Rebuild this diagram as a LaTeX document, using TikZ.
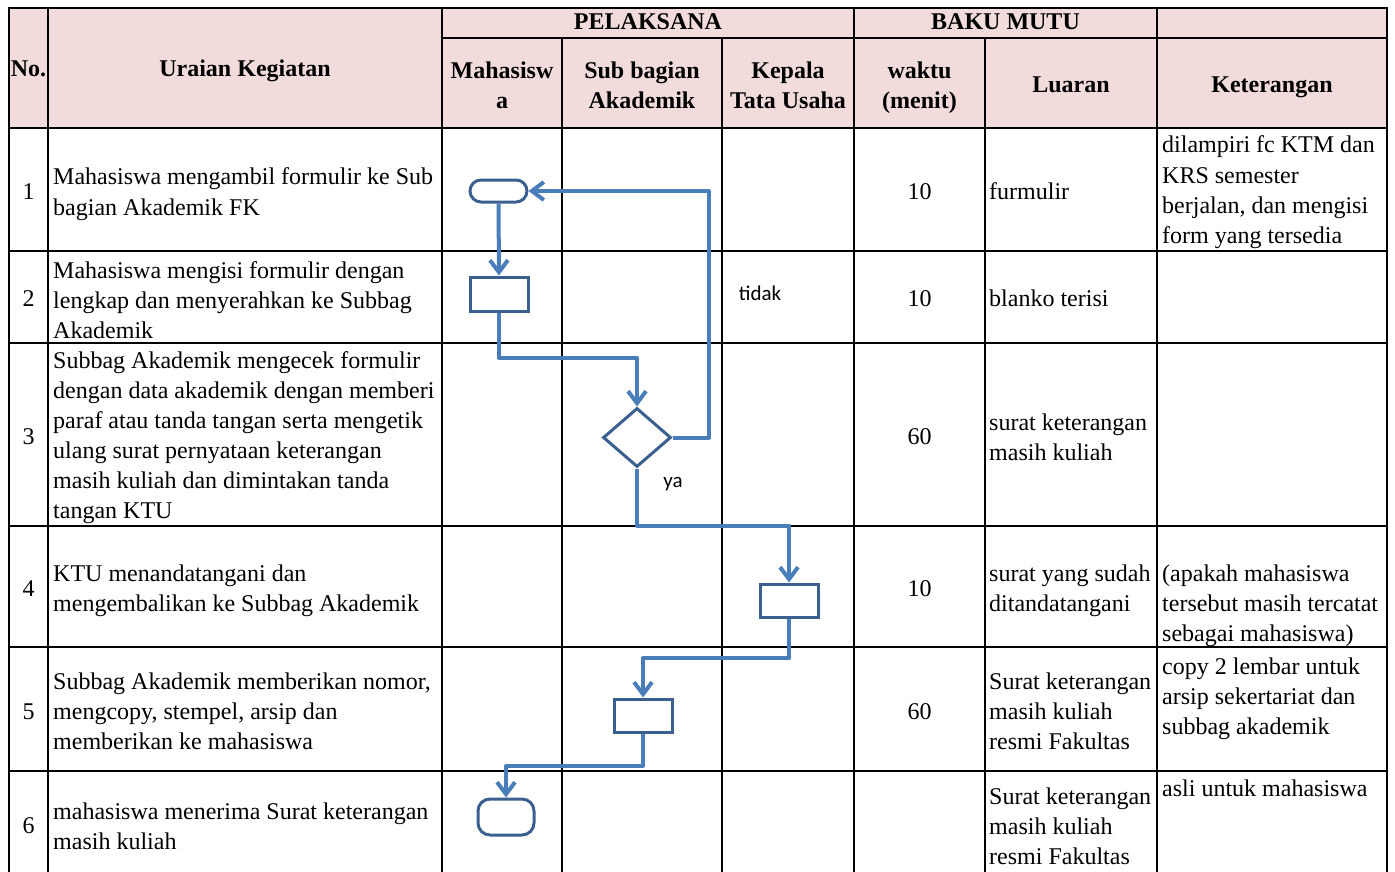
\documentclass[tikz,border=0pt]{standalone}
\usepackage{fontspec}
\setmainfont{Liberation Serif}
\newfontfamily\calib{Carlito}
\usetikzlibrary{shapes.geometric,arrows.meta}
\definecolor{hdrfill}{HTML}{F2DCDB}
\definecolor{shpline}{HTML}{3B5F8E}
\definecolor{connline}{HTML}{4A7EBB}
\newcommand\cellrows[5]{%
  \foreach \t [count=\i from 0] in {#5} {\node[tx,anchor=#4] (#1-\i) at (#2,#3+30*\i) {\t};}}
\begin{document}
\begin{tikzpicture}[x=1pt,y=-1pt,
  tx/.style={font=\fontsize{24}{30}\selectfont, inner sep=0pt},
  hd/.style={font=\fontsize{24}{30}\selectfont\bfseries, inner sep=0pt, anchor=base},
  grid/.style={line width=2.5pt, black, line cap=rect},
  shp/.style={draw=shpline, line width=3pt, inner sep=0pt},
  proc/.style={shp, rectangle, minimum width=58pt, minimum height=33pt},
  conn/.style={draw=connline, line width=4pt, line join=round,
    -{Straight Barb[length=12pt,width=18pt]}},
  lbl/.style={font=\calib\fontsize{21}{25}\selectfont, inner sep=0pt, anchor=base}]
\useasboundingbox (0,0) rectangle (1395,872);
% header fill
\fill[hdrfill] (9,8) rectangle (1387,128);
% grid lines
\foreach \yy in {8,128,251,343,526,647,771} \draw[grid] (9,\yy) -- (1387,\yy);
\draw[grid] (442,38) -- (1387,38);
\foreach \xx in {9,48,442,854,1157,1387} \draw[grid] (\xx,8) -- (\xx,872);
\foreach \xx in {562,722,985} \draw[grid] (\xx,38) -- (\xx,872);
% header texts
\node[hd] (hNo) at (28.5,77) {No.};
\node[hd] (hUr) at (245,77) {Uraian Kegiatan};
\node[hd] (hPel) at (648,30) {PELAKSANA};
\node[hd] (hBaku) at (1005.5,30) {BAKU MUTU};
\node[hd] (hMa1) at (502,79) {Mahasisw};
\node[hd] (hMa2) at (502,109) {a};
\node[hd] (hSb1) at (642,79) {Sub bagian};
\node[hd] (hSb2) at (642,109) {Akademik};
\node[hd] (hKp1) at (788,79) {Kepala};
\node[hd] (hKp2) at (788,109) {Tata Usaha};
\node[hd] (hWk1) at (919.5,79) {waktu};
\node[hd] (hWk2) at (919.5,109) {(menit)};
\node[hd] (hLu) at (1071,93) {Luaran};
\node[hd] (hKet) at (1272,93) {Keterangan};
% numbers
\node[tx,anchor=base] (n1) at (28.5,199) {1};
\node[tx,anchor=base] (n2) at (28.5,306) {2};
\node[tx,anchor=base] (n3) at (28.5,444) {3};
\node[tx,anchor=base] (n4) at (28.5,596) {4};
\node[tx,anchor=base] (n5) at (28.5,719) {5};
\node[tx,anchor=base] (n6) at (28.5,833) {6};
% uraian
\cellrows{u1}{53}{185}{base west}{Mahasiswa mengambil formulir ke Sub, bagian Akademik FK}
\cellrows{u2}{53}{278}{base west}{Mahasiswa mengisi formulir dengan, lengkap dan menyerahkan ke Subbag, Akademik}
\cellrows{u3}{53}{368}{base west}{Subbag Akademik mengecek formulir, dengan data akademik dengan memberi, paraf atau tanda tangan serta mengetik, ulang surat pernyataan keterangan, masih kuliah dan dimintakan tanda, tangan KTU}
\cellrows{u4}{53}{581}{base west}{KTU menandatangani dan, mengembalikan ke Subbag Akademik}
\cellrows{u5}{53}{689}{base west}{{Subbag Akademik memberikan nomor,}, {mengcopy, stempel, arsip dan}, memberikan ke mahasiswa}
\cellrows{u6}{53}{819}{base west}{mahasiswa menerima Surat keterangan, masih kuliah}
% waktu
\node[tx,anchor=base] (w1) at (919.5,199) {10};
\node[tx,anchor=base] (w2) at (919.5,306) {10};
\node[tx,anchor=base] (w3) at (919.5,444) {60};
\node[tx,anchor=base] (w4) at (919.5,596) {10};
\node[tx,anchor=base] (w5) at (919.5,719) {60};
% luaran
\cellrows{l1}{989}{199}{base west}{furmulir}
\cellrows{l2}{989}{306}{base west}{blanko terisi}
\cellrows{l3}{989}{430}{base west}{surat keterangan, masih kuliah}
\cellrows{l4}{989}{581}{base west}{surat yang sudah, ditandatangani}
\cellrows{l5}{989}{689}{base west}{Surat keterangan, masih kuliah, resmi Fakultas}
\cellrows{l6}{989}{804}{base west}{Surat keterangan, masih kuliah, resmi Fakultas}
% keterangan
\cellrows{k1}{1162}{153}{base west}{dilampiri fc KTM dan, KRS semester, {berjalan, dan mengisi}, form yang tersedia}
\cellrows{k4}{1162}{581}{base west}{{(apakah mahasiswa}, {tersebut masih tercatat}, {sebagai mahasiswa)}}
\cellrows{k5}{1162}{674}{base west}{copy 2 lembar untuk, arsip sekertariat dan, subbag akademik}
\cellrows{k6}{1162}{796}{base west}{asli untuk mahasiswa}
% flowchart shapes
\node[shp, rectangle, rounded corners=11pt, minimum width=57pt, minimum height=22pt] (t1) at (498.5,191) {};
\node[proc, minimum height=34pt] (b2) at (499,294) {};
\node[shp, diamond, minimum width=68pt, minimum height=59pt] (d3) at (637,437.5) {};
\node[proc] (b4) at (789,600.5) {};
\node[proc] (b5) at (643,715.5) {};
\node[shp, rectangle, rounded corners=12pt, minimum width=56pt, minimum height=36pt] (t6) at (506,817) {};
\coordinate (back) at (709,437.5);
% connectors
\draw[conn] (t1.south) -- (b2.north);
\draw[conn] (b2.south) -- (b2.south |- 0,358) -| (d3.north);
\draw[conn] (d3.east) -- (back) |- (t1.east);
\draw[conn] (d3.south) -- (d3.south |- 0,526) -| (b4.north);
\draw[conn] (b4.south) -- (b4.south |- 0,658) -| (b5.north);
\draw[conn] (b5.south) -- (b5.south |- 0,766) -| (t6.north);
% labels
\node[lbl] (ltidak) at (760,300) {tidak};
\node[lbl] (lya) at (673,487) {ya};
\end{tikzpicture}
\end{document}
